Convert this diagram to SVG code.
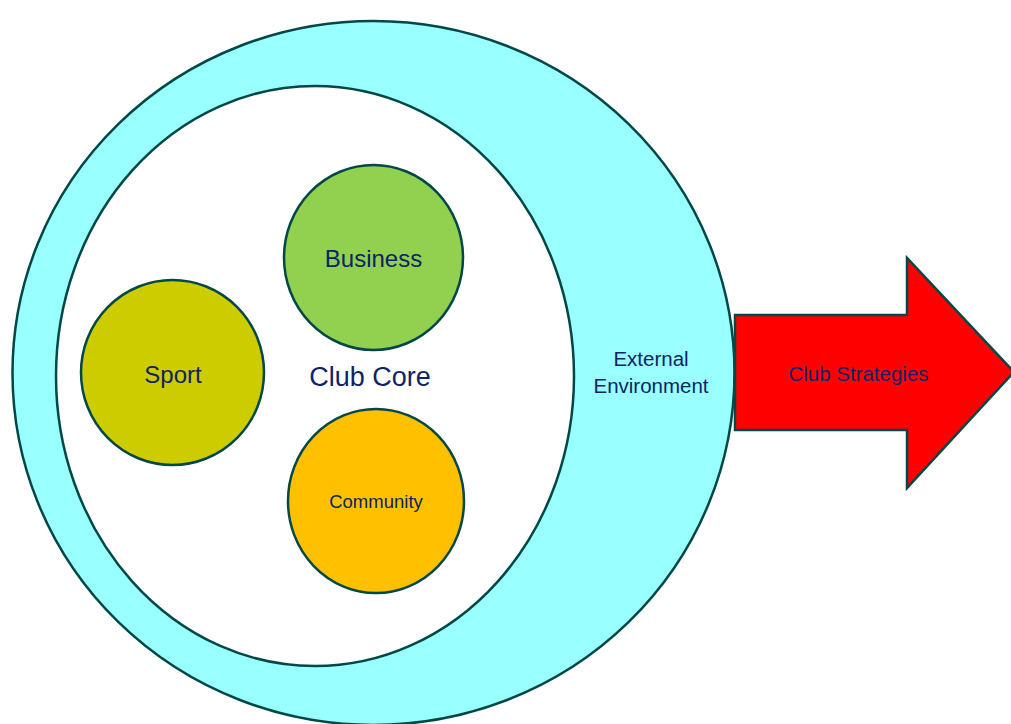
<svg xmlns="http://www.w3.org/2000/svg" width="1011" height="724" viewBox="0 0 1011 724">
  <style>
    .edge { stroke: #034846; stroke-width: 2.5; }
    .lbl { font-family: "Liberation Sans", Arial, sans-serif; fill: #0f2366; text-anchor: middle; dominant-baseline: central; }
  </style>
  <rect width="1011" height="724" fill="#ffffff"/>

  <g id="external-environment">
    <ellipse class="edge" cx="373.5" cy="373" rx="361" ry="352" fill="#99ffff"/>
    <text class="lbl" x="651" y="358" font-size="20.5">External</text>
    <text class="lbl" x="651" y="385" font-size="20.5">Environment</text>
  </g>

  <g id="club-core">
    <ellipse class="edge" cx="315" cy="376" rx="259" ry="290" fill="#ffffff"/>
    <text class="lbl" x="370" y="377" font-size="27">Club Core</text>
  </g>

  <g id="business">
    <ellipse class="edge" cx="373.5" cy="257.5" rx="89.5" ry="92.5" fill="#92d050"/>
    <text class="lbl" x="373.5" y="258" font-size="24">Business</text>
  </g>

  <g id="sport">
    <ellipse class="edge" cx="172.5" cy="372.5" rx="91.5" ry="92.5" fill="#cccc00"/>
    <text class="lbl" x="173" y="374" font-size="24">Sport</text>
  </g>

  <g id="community">
    <ellipse class="edge" cx="376" cy="501" rx="88" ry="92" fill="#ffc000"/>
    <text class="lbl" x="376" y="501" font-size="18.5">Community</text>
  </g>

  <g id="connectors">
    <g id="club-strategies">
      <polygon class="edge" fill="#ff0000" stroke-linejoin="miter"
               points="735,315 907,315 907,258 1014,372 907,488 907,430 735,430"/>
      <text class="lbl" x="858.5" y="373" font-size="20.5">Club Strategies</text>
    </g>
  </g>
</svg>
